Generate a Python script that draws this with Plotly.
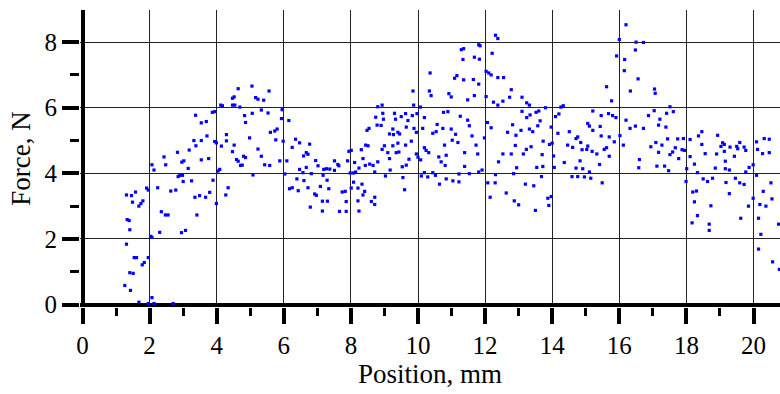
import plotly.graph_objects as go

# (position mm, force N), grouped by region along x
points_a = [(2.43,4.50),(2.07,4.26),(2.13,4.10),(2.48,4.26),(1.31,3.34),(1.46,3.32),(1.58,3.43),(1.91,3.55),
            (1.96,3.49),(2.24,3.56),(2.63,3.46),(1.49,3.12),(1.68,3.00),(1.74,3.08),(1.80,3.16),(2.35,2.83),
            (2.47,2.73),(2.55,2.73),(1.33,2.59),(1.39,2.56),(1.41,2.28),(2.03,2.08),(2.07,2.05),(2.30,2.20),
            (1.31,1.84),(1.54,1.43),(1.61,1.43),(1.96,1.43),(1.78,1.21),(1.84,1.28),(1.41,0.97),(1.51,0.95),
            (1.26,0.58),(1.43,0.43),(1.68,0.07),(1.96,0.03),(2.07,0.21),(2.13,0.03),(2.70,0.03)]

points_b = [(5.05,6.66),(4.64,6.58),(4.47,6.29),(4.52,6.33),(5.16,6.31),(5.23,6.26),(5.40,6.23),(5.56,6.51),
            (4.12,6.08),(4.17,6.06),(4.47,6.08),(4.54,6.08),(4.69,6.02),(3.37,5.77),(3.87,5.86),(3.94,5.88),
            (4.83,5.76),(5.06,5.83),(5.33,5.93),(5.53,5.84),(4.86,5.55),(3.54,5.54),(3.69,5.58),(3.71,5.14),
            (4.29,5.18),(4.98,5.08),(5.60,5.25),(3.32,5.00),(3.54,5.00),(3.94,4.97),(3.99,4.93),(4.29,4.99),
            (4.14,4.83),(4.52,4.86),(3.38,4.84),(3.18,4.71),(4.47,4.66),(5.23,4.74),(2.83,4.64),(2.96,4.34),
            (3.02,4.38),(3.54,4.41),(3.76,4.45),(4.59,4.42),(4.64,4.37),(4.80,4.52),(4.86,4.48),(5.33,4.52),
            (4.71,4.24),(4.76,4.25),(5.43,4.26),(5.58,4.24),(3.15,4.15),(4.09,4.12),(4.04,4.07),(2.90,3.94),
            (2.98,3.94),(2.85,3.90),(3.00,3.75),(3.25,3.77),(3.89,3.79),(5.08,3.95),(2.78,3.49),(3.35,3.27),
            (3.49,3.32),(3.67,3.27),(3.79,3.42),(4.27,3.34),(4.34,3.56),(3.99,3.08),(3.41,2.73),(2.95,2.19),
            (3.07,2.26)]

points_c = [(5.95,5.94),(5.93,5.67),(6.15,5.61),(5.73,5.29),(5.80,5.35),(5.76,5.02),(5.98,4.98),(5.88,4.38),
            (6.09,4.38),(6.03,3.98),(6.25,4.79),(6.35,5.04),(6.47,4.93),(6.77,4.89),(6.59,4.53),(6.67,4.63),
            (6.72,4.58),(6.95,4.39),(7.02,4.23),(6.67,4.18),(6.47,4.12),(6.57,4.02),(6.82,3.99),(6.39,3.83),
            (6.60,3.78),(6.17,3.53),(6.25,3.56),(6.43,3.47),(6.72,3.56),(6.79,2.97),(6.92,3.37),(6.97,3.33),
            (7.09,3.60),(7.15,3.15),(7.30,3.15),(7.15,2.85),(7.19,4.12),(7.27,4.14),(7.37,4.13),(7.17,3.94),
            (7.29,3.79),(7.34,3.53),(7.51,4.38),(7.61,4.27),(7.51,4.09),(7.64,4.23),(7.74,3.43),(7.83,3.45),
            (7.66,2.84),(7.86,3.14),(7.86,2.84),(7.90,4.38),(7.94,4.67),(8.01,4.70),(8.11,4.33),(8.08,4.01),
            (7.98,4.01),(8.08,3.73),(8.01,3.55),(8.21,3.55),(8.33,3.67),(8.41,3.45),(8.36,3.34),(8.21,3.16),
            (8.24,2.85),(8.36,4.45),(8.31,4.72),(8.43,4.24),(8.24,4.16),(8.14,4.04),(8.44,4.86),(8.51,4.84),
            (8.48,5.31),(8.54,5.37),(8.56,4.28),(8.61,3.14)]

points_d = [(8.80,6.03),(8.93,6.08),(8.74,5.71),(8.95,5.83),(8.97,5.65),(8.78,5.47),(8.90,5.46),(8.93,4.73),
            (9.00,4.84),(9.10,4.63),(9.15,4.45),(9.25,4.84),(9.40,4.92),(9.43,4.65),(9.30,5.83),(9.33,5.65),
            (9.50,5.73),(9.63,5.82),(9.70,5.61),(9.83,5.76),(9.97,5.82),(9.87,6.08),(9.85,6.51),(10.07,6.02),
            (10.19,5.70),(10.34,6.51),(10.39,6.37),(10.36,7.06),(11.29,7.77),(11.36,7.80),(11.34,7.47),(11.09,6.90),
            (11.16,6.98),(11.36,6.85),(10.92,6.43),(10.99,6.33),(11.48,6.24),(10.76,5.86),(10.89,5.88),(11.26,5.74),
            (11.48,5.62),(11.53,5.45),(9.15,5.20),(9.27,5.18),(9.45,5.20),(9.25,5.35),(9.40,5.25),(9.65,5.41),
            (9.88,5.37),(9.95,5.25),(10.14,5.37),(10.44,5.22),(10.54,5.27),(10.57,5.49),(10.74,5.37),(10.99,5.35),
            (11.12,5.19),(11.02,5.01),(11.19,4.94),(10.79,4.86),(9.63,4.86),(9.80,4.98),(9.35,4.63),(9.73,4.43),
            (9.53,4.20),(9.65,4.25),(9.95,4.59),(10.00,4.49),(10.08,4.41),(10.19,4.78),(10.24,4.70),(10.32,4.63),
            (10.62,4.50),(10.84,4.55),(10.69,4.35),(10.81,4.24),(11.39,4.63),(11.39,4.21),(8.66,4.24),(8.80,4.35),
            (8.71,4.04),(9.17,4.10),(9.03,3.92),(9.55,3.87),(9.60,3.50),(10.10,3.92),(10.19,4.02),(10.29,3.89),
            (10.44,4.02),(10.52,3.94),(10.64,3.67),(10.84,3.83),(11.04,3.77),(11.22,3.74),(11.22,3.98),(11.53,3.99),
            (8.71,3.27),(8.71,3.05)]

points_e = [(12.31,8.21),(12.38,8.11),(11.81,7.92),(11.85,7.89),(12.21,7.66),(11.68,7.54),(11.83,7.48),(12.03,7.11),
            (12.11,7.06),(12.18,7.00),(12.38,6.92),(12.55,6.92),(11.65,6.86),(11.81,6.72),(12.78,6.55),(11.68,6.37),
            (12.03,6.34),(12.25,6.17),(12.38,6.08),(12.53,6.20),(12.73,6.32),(13.10,6.32),(13.24,6.15),(13.32,6.08),
            (13.10,5.89),(13.24,5.70),(13.34,5.78),(13.52,5.86),(13.60,5.90),(13.64,5.60),(13.80,6.00),(14.26,6.02),
            (14.33,6.06),(14.10,5.73),(14.20,5.81),(13.97,5.41),(13.57,5.45),(13.42,5.27),(13.32,5.35),(13.07,5.31),
            (12.82,5.48),(12.67,5.25),(12.92,5.16),(12.07,5.55),(12.18,5.39),(11.61,5.14),(11.98,5.08),(11.73,4.86),
            (11.78,4.59),(11.81,4.04),(11.91,4.10),(12.08,3.71),(12.30,3.71),(12.15,3.27),(12.31,3.96),(12.40,4.35),
            (12.53,4.59),(12.78,4.59),(12.90,4.85),(12.94,4.17),(12.85,3.99),(13.23,4.73),(13.37,4.81),(13.14,4.59),
            (13.73,4.98),(13.70,4.57),(13.92,4.88),(14.00,4.92),(14.04,4.53),(14.06,4.18),(13.54,4.18),(13.72,4.21),
            (13.68,3.90),(13.20,3.67),(13.45,3.62),(12.63,3.40),(12.87,3.16),(13.00,3.04),(13.50,2.87),(13.87,3.24),
            (13.97,3.29),(13.90,3.02),(14.17,5.22),(14.36,4.33),(14.46,4.86),(14.51,5.27)]

points_f = [(16.20,8.53),(16.00,8.08),(16.50,8.00),(16.72,7.99),(16.48,7.76),(15.92,7.58),(16.16,7.47),(16.15,7.13),
            (16.56,6.88),(15.62,6.64),(17.05,6.57),(17.07,6.44),(16.33,6.51),(15.77,6.21),(17.51,6.03),(15.21,5.90),
            (15.46,5.76),(15.68,5.82),(15.80,5.76),(15.90,5.70),(16.20,5.62),(17.04,5.91),(16.87,5.76),(17.21,5.65),
            (17.41,5.83),(15.06,5.52),(15.11,5.44),(15.43,5.43),(15.21,5.31),(16.32,5.37),(16.48,5.44),(16.72,5.37),
            (17.17,5.47),(17.39,5.41),(14.76,5.11),(14.71,5.06),(15.46,5.14),(15.70,5.11),(15.85,4.96),(16.02,5.15),
            (16.12,4.86),(14.85,4.94),(14.61,4.79),(15.06,4.83),(15.03,4.73),(15.19,4.67),(15.33,4.59),(15.62,4.78),
            (15.70,4.52),(15.55,4.73),(14.89,4.72),(17.09,4.94),(17.27,4.86),(17.44,5.05),(16.94,4.81),(17.17,4.64),
            (14.83,4.38),(15.41,4.27),(16.60,4.42),(16.58,4.17),(14.71,4.16),(14.91,4.14),(15.11,4.04),(17.12,4.22),
            (17.35,4.22),(17.47,4.08),(14.59,3.90),(14.76,3.90),(14.96,3.89),(15.15,3.85),(15.49,3.71)]

points_g = [(17.61,5.88),(17.74,5.05),(17.91,5.06),(18.11,5.03),(18.36,5.14),(18.46,5.27),(18.46,4.88),(18.93,5.16),
            (19.08,4.93),(19.13,4.88),(19.03,4.82),(19.30,4.80),(19.50,4.82),(19.59,4.94),(19.53,4.75),(19.72,4.80),
            (19.77,4.70),(20.09,4.96),(20.12,4.73),(20.32,5.06),(20.47,5.04),(20.47,4.63),(20.27,4.60),(17.67,4.78),
            (17.59,4.65),(17.51,4.57),(17.87,4.72),(17.94,4.70),(17.77,4.45),(18.11,4.51),(18.56,4.60),(18.90,4.59),
            (19.13,4.67),(19.16,4.37),(19.43,4.52),(18.24,4.28),(18.86,4.16),(19.16,4.14),(19.28,4.10),(19.77,4.04),
            (19.87,4.18),(19.99,4.26),(20.09,3.94),(18.01,4.14),(18.33,4.02),(18.50,3.83),(18.63,3.75),(18.78,3.85),
            (19.18,3.72),(19.46,3.85),(19.59,3.71),(19.72,3.66),(17.99,3.75),(18.19,3.43),(18.30,3.46),(19.28,3.38),
            (18.24,3.13),(18.73,3.01),(18.33,2.71),(18.17,2.49),(18.68,2.45),(18.68,2.26),(19.62,2.63),(19.85,3.00),
            (19.99,3.24),(20.19,3.05),(20.37,3.00),(20.29,3.45),(20.52,3.71),(20.55,3.22),(20.15,2.63),(20.22,2.14),
            (20.15,1.69),(20.57,1.30),(20.77,1.07),(20.75,2.45)]

x_ticks = [0, 2, 4, 6, 8, 10, 12, 14, 16, 18, 20]
y_ticks = [0, 2, 4, 6, 8]

all_points = points_a + points_b + points_c + points_d + points_e + points_f + points_g
position = [p[0] for p in all_points]
force = [p[1] for p in all_points]

FONT = "Liberation Serif, Times New Roman, serif"

fig = go.Figure(go.Scatter(
    x=position, y=force, mode="markers",
    marker=dict(symbol="square", size=3.2, color="#0000ff", line=dict(width=0)),
    cliponaxis=True, showlegend=False))

fig.update_layout(
    template="none", width=780, height=394,
    margin=dict(l=80, r=0, t=10, b=87),
    paper_bgcolor="white", plot_bgcolor="white",
    font=dict(family=FONT, size=25, color="black"),
)

fig.update_xaxes(
    range=[-0.075, 20.79], tickmode="array", tickvals=x_ticks, ticktext=[str(v) for v in x_ticks],
    showline=False, zeroline=True, zerolinecolor="black", zerolinewidth=4,
    ticks="outside", ticklen=16, tickwidth=4, tickcolor="black",
    showgrid=True, gridcolor="#222222", gridwidth=1.3,
    minor=dict(tickmode="linear", tick0=0, dtick=1, ticks="outside", ticklen=8, tickwidth=3,
               tickcolor="black", showgrid=False),
    tickfont=dict(family=FONT, size=25, color="black"),
    title=dict(text="Position, mm", font=dict(family=FONT, size=27, color="black"), standoff=4),
    automargin=False,
)

fig.update_yaxes(
    range=[-0.076, 8.98], tickmode="array", tickvals=y_ticks, ticktext=[str(v) for v in y_ticks],
    showline=False, zeroline=True, zerolinecolor="black", zerolinewidth=4,
    ticks="outside", ticklen=17, tickwidth=4, tickcolor="black",
    showgrid=True, gridcolor="#222222", gridwidth=1.3,
    minor=dict(tickmode="linear", tick0=0, dtick=1, ticks="outside", ticklen=9, tickwidth=3,
               tickcolor="black", showgrid=False),
    tickfont=dict(family=FONT, size=25, color="black"),
    title=dict(text="Force, N", font=dict(family=FONT, size=27, color="black"), standoff=6),
    automargin=False,
)

fig.write_html("out.html")
